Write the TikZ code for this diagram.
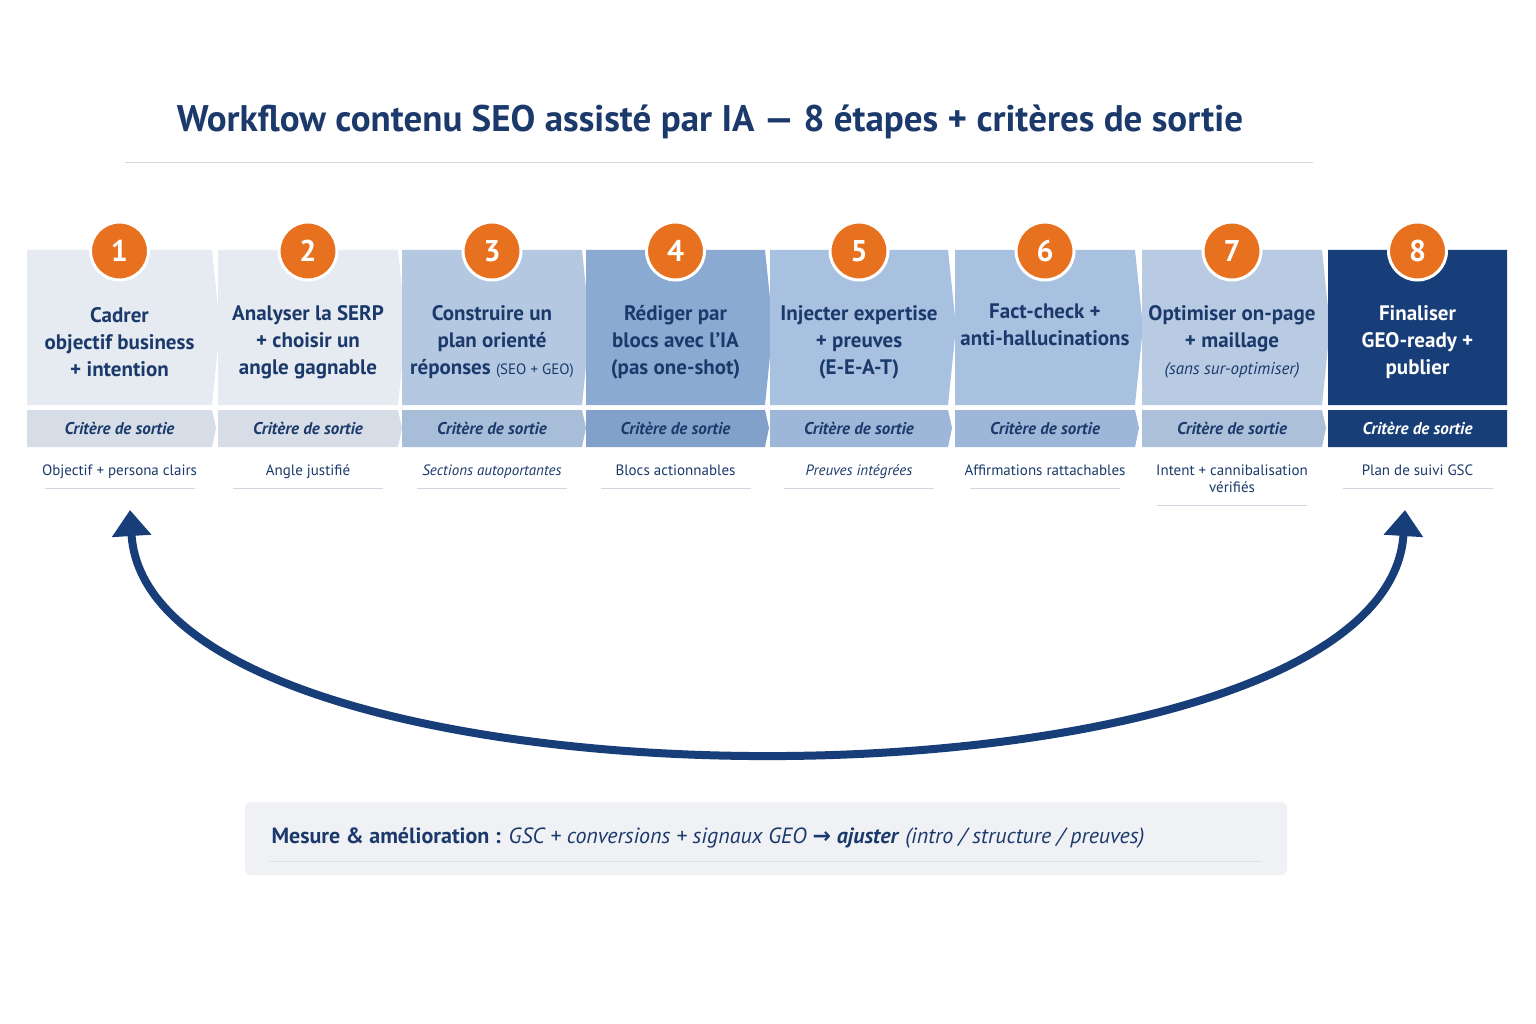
\documentclass[tikz,border=0pt]{standalone}
\usepackage{fontspec}
\setmainfont{PT Sans}
\newfontfamily\djv{DejaVu Sans}
\usetikzlibrary{arrows.meta}
\definecolor{navy}{HTML}{1B3A6B}
\definecolor{dnavy}{HTML}{173E78}
\definecolor{org}{HTML}{E8711F}
\definecolor{c1}{HTML}{E6EBF2}
\definecolor{c3}{HTML}{B4C8E2}
\definecolor{c4}{HTML}{8AAAD2}
\definecolor{c5}{HTML}{A9C1E0}
\definecolor{c7}{HTML}{B9CBE3}
\tikzset{
 num/.style={circle,fill=org,draw=white,line width=3pt,minimum size=58pt,text=white,font=\bfseries\fontsize{30}{30}\selectfont},
 btxt/.style={align=center,text=navy,font=\bfseries\fontsize{21}{27}\selectfont},
 crit/.style={text=navy,font=\itshape\bfseries\fontsize{17}{20}\selectfont},
 res/.style={text=navy,align=center,font=\fontsize{15}{17}\selectfont},
}
\begin{document}
\begin{tikzpicture}[x=1pt,y=-1pt]
\useasboundingbox[fill=white] (0,0) rectangle (1536,1024);
\node[text=navy,font=\bfseries\fontsize{37}{42}\selectfont] (title) at (710,122) {Workflow contenu SEO assisté par IA — 8 étapes + critères de sortie};
\draw[navy!20,line width=1pt] (125,163) -- (1313,163);
\foreach \i/\L/\R/\P/\col/\tc/\txt/\res/\ul in {
 1/27/212/8/c1/navy/{Cadrer\\objectif business\\+ intention}/{Objectif + persona clairs}/488,
 2/218/398/8/c1/navy/{Analyser la SERP\\+ choisir un\\angle gagnable}/{Angle justifié}/488,
 3/402/582/8/c3/navy/{Construire un\\plan orienté\\réponses {\normalfont\fontsize{15}{15}\selectfont(SEO + GEO)}}/{\itshape Sections autoportantes}/488,
 4/586/765/8/c4/navy/{Rédiger par\\blocs avec l’IA\\(pas one-shot)}/{Blocs actionnables}/488,
 5/770/948/8/c5/navy/{Injecter expertise\\+ preuves\\(E-E-A-T)}/{\itshape Preuves intégrées}/488,
 6/955/1135/8/c5/navy/{Fact-check +\\anti-hallucinations\\\strut}/{Affirmations rattachables}/488,
 7/1142/1322/8/c7/navy/{Optimiser on-page\\+ maillage\\{\normalfont\itshape\fontsize{17}{17}\selectfont(sans sur-optimiser)}}/{Intent + cannibalisation\\vérifiés}/505,
 8/1328/1507/0/dnavy/white/{Finaliser\\GEO-ready +\\publier}/{Plan de suivi GSC}/488}{
 \pgfmathsetmacro\cx{(\L+\R)/2}
 \fill[\col] (\L,250) -- (\R,250) -- (\R+\P,327) -- (\R,405) -- (\L,405) -- cycle;
 \fill[\col!92!navy] (\L,410) -- (\R,410) -- (\R+\P/2,428) -- (\R,447) -- (\L,447) -- cycle;
 \node[btxt,text=\tc] (b\i) at (\cx,342) {\txt};
 \node[crit,text=\tc] (k\i) at (\cx,428) {Critère de sortie};
 \node[res,anchor=north] (r\i) at (\cx,461) {\res};
 \draw[navy!20,line width=1pt] (\cx-75,\ul) -- (\cx+75,\ul);
 \node[num] (n\i) at (\cx,251) {\i};
}
\coordinate (a1) at (130,510);
\coordinate (a8) at (1405,510);
\draw[dnavy,line width=8pt,{Triangle[length=26pt,width=38pt]}-{Triangle[length=26pt,width=38pt]}]
 (a1) .. controls (150,830) and (1385,830) .. (a8);
\fill[navy!7,rounded corners=6pt] (245,802) rectangle (1287,875);
\draw[navy!15,line width=1pt] (270,861) -- (1262,861);
\node[anchor=west,text=navy,font=\fontsize{22}{26}\selectfont] (m) at (268,838) {\textbf{Mesure \& amélioration :} \textit{GSC + conversions + signaux GEO} {\djv\bfseries →} \textbf{\textit{ajuster}} \textit{(intro / structure / preuves)}};
\end{tikzpicture}
\end{document}
